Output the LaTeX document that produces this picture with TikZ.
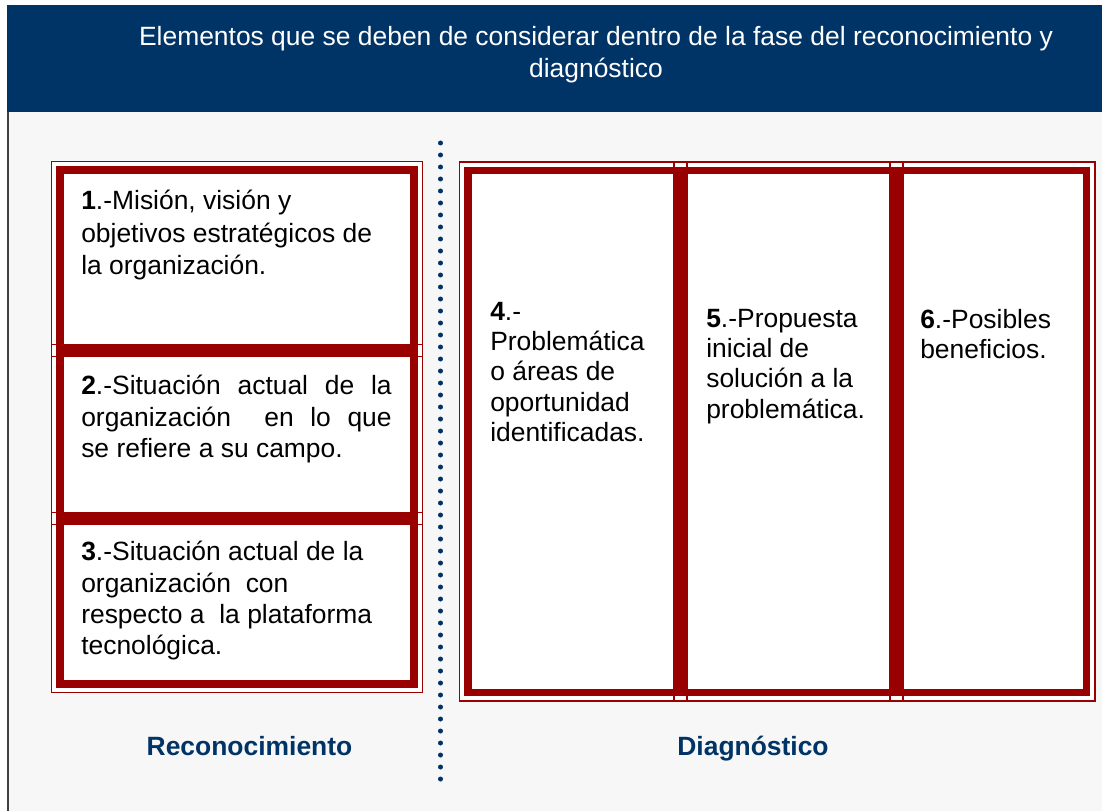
\documentclass[tikz,border=0pt]{standalone}
\usepackage{fontspec}
\setmainfont{Liberation Sans}
\usetikzlibrary{positioning}
\definecolor{navy}{RGB}{0,51,102}
\definecolor{boxred}{RGB}{153,0,0}
\definecolor{panel}{RGB}{247,247,247}

\begin{document}
\begin{tikzpicture}[
  font=\fontsize{18.8}{22.8}\selectfont,
  frame/.style={draw=boxred, line width=1.1pt, inner sep=0pt, outer sep=0pt,
    path picture={\draw[boxred, line width=5pt]
      ([shift={(0.2125,-0.2125)}]path picture bounding box.north west) rectangle
      ([shift={(-0.2125,0.2125)}]path picture bounding box.south east);}},
  leftbox/.style={frame, minimum width=9.275cm, minimum height=4.5cm},
  rightbox/.style={frame, minimum height=13.475cm},
  boxtext/.style={anchor=north west, inner sep=0pt, align=left},
  phase/.style={font=\fontsize{18.8}{22.8}\selectfont\bfseries, text=navy, anchor=base}
]
\useasboundingbox (0,0) rectangle (27.55,-20.275);

% Background: header band and panel
\fill[white] (0,0) rectangle (27.55,-20.275);
\fill[navy] (0.175,-0.125) rectangle (27.55,-2.8);
\fill[panel] (0.175,-2.8) rectangle (27.55,-20.275);
\draw[black!75, line width=0.05cm] (0.2,-2.8) -- (0.2,-20.275);

\node[anchor=north, align=center, text=white, inner sep=0pt, font=\fontsize{18.8}{22.7}\selectfont] (title) at (14.9,-0.65)
  {Elementos que se deben de considerar dentro de la fase del reconocimiento y\\diagnóstico};

% White insides of the two groups
\fill[white] (1.2875,-4.0375) rectangle (10.5625,-17.3125);
\fill[white] (11.4875,-4.05) rectangle (27.375,-17.525);

% Left column: reconocimiento
\node[leftbox, minimum height=4.875cm] (b1) at (5.925,-6.475) {};
\node[leftbox, below=-0.3cm of b1] (b2) {};
\node[leftbox, below=-0.3cm of b2] (b3) {};

% Right columns: diagnostico
\node[rightbox, minimum width=5.6875cm] (b4) at (14.33125,-10.7875) {};
\node[rightbox, minimum width=5.725cm, right=-0.325cm of b4] (b5) {};
\node[rightbox, minimum width=5.125cm, right=-0.325cm of b5] (b6) {};

% Box texts
\node[boxtext, font=\fontsize{18.8}{23.1}\selectfont] (t1) at ([shift={(0.7375,-0.7125)}]b1.north west)
  {\textbf{1}.-Misión, visión y\\objetivos estratégicos de\\la organización.};
\node[boxtext, text width=7.76cm, align=justify, font=\fontsize{18.8}{22.4}\selectfont] (t2) at ([shift={(0.7375,-0.7625)}]b2.north west)
  {\tolerance=10000 \textbf{2}.-Situación actual de la\linebreak organización\ \ en lo que\linebreak se refiere a su campo.};
\node[boxtext, font=\fontsize{18.8}{22.3}\selectfont] (t3) at ([shift={(0.7375,-0.7125)}]b3.north west)
  {\textbf{3}.-Situación actual de la\\organización\ \ con\\respecto a\ \ la plataforma\\tecnológica.};
\node[boxtext, font=\fontsize{18.8}{21.5}\selectfont] (t4) at ([shift={(0.7625,-3.5)}]b4.north west)
  {\textbf{4}.-\\Problemática\\o áreas de\\oportunidad\\identificadas.};
\node[boxtext, font=\fontsize{18.8}{21.5}\selectfont] (t5) at ([shift={(0.8,-3.675)}]b5.north west)
  {\textbf{5}.-Propuesta\\inicial de\\solución a la\\problemática.};
\node[boxtext, font=\fontsize{18.8}{21.5}\selectfont] (t6) at ([shift={(0.75,-3.675)}]b6.north west)
  {\textbf{6}.-Posibles\\beneficios.};

% Dotted divider
\foreach \k in {0,...,53}
  \fill[navy] (11.0125,{-3.575-0.3*\k}) circle (0.0625);

% Phase labels
\node[phase] (rec) at (6.2375,-18.875) {Reconocimiento};
\node[phase] (diag) at (18.825,-18.875) {Diagnóstico};

\end{tikzpicture}
\end{document}
